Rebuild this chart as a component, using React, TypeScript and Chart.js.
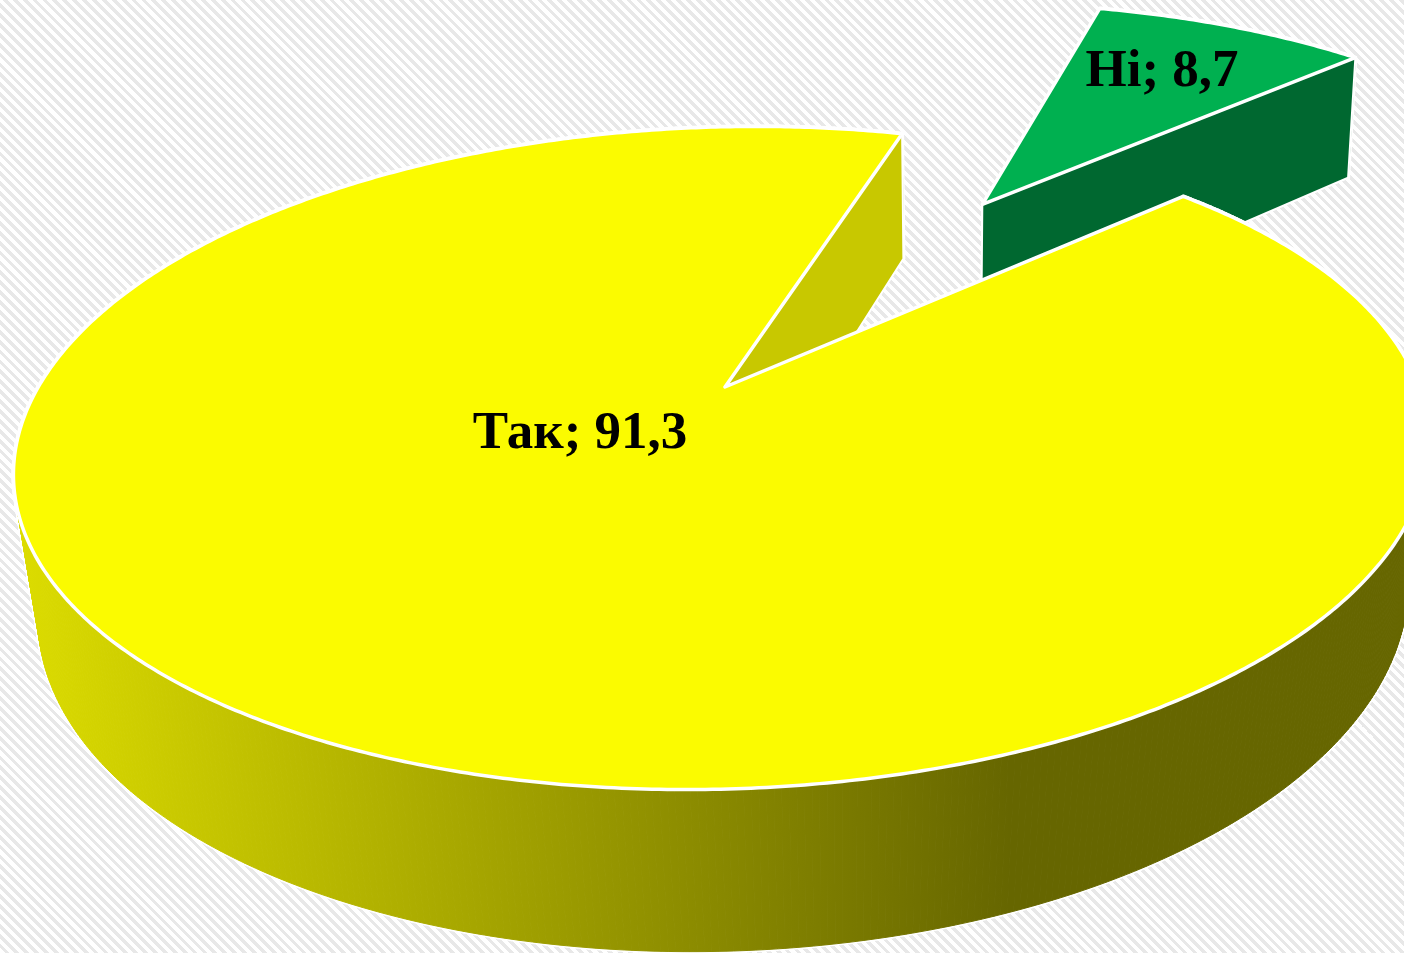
import React, { useEffect, useRef } from "react";
import { Chart, registerables } from "chart.js";

Chart.register(...registerables);

const categories = ["Так", "Ні"];
const shares = [91.3, 8.7];
const topColors = ["#FBFB00", "#00B050"];
const cutColors = ["#C8C800", "#006830"];
const wallColors = ["gradient", "#006830"];
const explodeAmounts = [0, 0.765];
const radii = [1, 0.98];
const labelCenters = [[580, 434], [1162, 72]];

type Vec = [number, number];

function makePlane(c: Vec, A: Vec, B: Vec, apex: Vec) {
  const det = A[0] * B[1] - B[0] * A[1];
  const dx = apex[0] - c[0];
  const dy = apex[1] - c[1];
  const px = (B[1] * dx - B[0] * dy) / det;
  const py = (-A[1] * dx + A[0] * dy) / det;
  const beta = Math.hypot(px, py);
  const nx = px / beta;
  const ny = py / beta;
  const gamma = 1 / Math.sqrt(1 - beta * beta);
  return (x: number, y: number): Vec => {
    const par = x * nx + y * ny;
    const qx = x - par * nx;
    const qy = y - par * ny;
    const den = 1 + beta * par;
    const par2 = (par + beta) / den;
    const k = 1 / (gamma * den);
    const u = par2 * nx + qx * k;
    const v = par2 * ny + qy * k;
    return [c[0] + u * A[0] + v * B[0], c[1] + u * A[1] + v * B[1]];
  };
}

const topPlane = makePlane([721, 458], [707.5, -21.2], [9.9, 330.9], [725, 387]);
const bottomPlane = makePlane([723, 601], [685, -21.4], [9.9, 350], [730, 531]);

function trace(ctx: CanvasRenderingContext2D, pts: Vec[]) {
  ctx.beginPath();
  pts.forEach((p, i) => (i ? ctx.lineTo(p[0], p[1]) : ctx.moveTo(p[0], p[1])));
  ctx.closePath();
}

const pie3d = {
  id: "pie3d",
  beforeDatasetDraw(chart: any) {
    const ctx: CanvasRenderingContext2D = chart.ctx;
    const arcs = chart.getDatasetMeta(0).data;
    ctx.save();
    ctx.lineJoin = "round";
    [1, 0].forEach((i) => {
      const arc = arcs[i];
      const { startAngle, endAngle } = arc;
      const mid = (startAngle + endAngle) / 2;
      const ox = explodeAmounts[i] * Math.cos(mid);
      const oy = explodeAmounts[i] * Math.sin(mid);
      const r = radii[i];
      const steps = Math.max(8, Math.ceil((endAngle - startAngle) / 0.0087));
      const world: Vec[] = [];
      for (let s = 0; s <= steps; s++) {
        const a = startAngle + ((endAngle - startAngle) * s) / steps;
        world.push([ox + r * Math.cos(a), oy + r * Math.sin(a)]);
      }
      const topRim = world.map((w) => topPlane(w[0], w[1]));
      const botRim = world.map((w) => bottomPlane(w[0], w[1]));
      const topApex = topPlane(ox, oy);
      const botApex = bottomPlane(ox, oy);

      // outer wall: white halo first, then the strips of the wall
      let wallFill: any = wallColors[i];
      if (wallFill === "gradient") {
        const g = ctx.createLinearGradient(20, 0, 1010, 0);
        g.addColorStop(0, "#DCDC00");
        g.addColorStop(1, "#666600");
        wallFill = g;
      }
      const strip = (s: number) => [topRim[s], topRim[s + 1], botRim[s + 1], botRim[s]] as Vec[];
      ctx.strokeStyle = "#FFFFFF";
      ctx.lineWidth = 4;
      for (let s = 0; s < steps; s++) {
        trace(ctx, strip(s));
        ctx.stroke();
      }
      ctx.fillStyle = wallFill;
      ctx.strokeStyle = wallFill;
      ctx.lineWidth = 1;
      for (let s = 0; s < steps; s++) {
        trace(ctx, strip(s));
        ctx.fill();
        ctx.stroke();
      }

      // cut walls
      ctx.strokeStyle = "#FFFFFF";
      [0, steps].forEach((k) => {
        trace(ctx, [topApex, topRim[k], botRim[k], botApex]);
        ctx.fillStyle = cutColors[i];
        ctx.fill();
        ctx.lineWidth = 2;
        ctx.stroke();
      });

      // top face
      trace(ctx, [topApex, ...topRim]);
      ctx.fillStyle = arc.options.backgroundColor;
      ctx.fill();
      ctx.lineWidth = 3.5;
      ctx.stroke();
    });
    ctx.restore();
    return false;
  },
  afterDatasetsDraw(chart: any) {
    const ctx: CanvasRenderingContext2D = chart.ctx;
    const labels: string[] = chart.data.labels;
    const values: number[] = chart.data.datasets[0].data;
    ctx.save();
    ctx.fillStyle = "#000000";
    ctx.font = 'bold 53px "Liberation Serif"';
    ctx.textAlign = "center";
    ctx.textBaseline = "middle";
    labels.forEach((label, i) => {
      const text = `${label}; ${values[i].toFixed(1).replace(".", ",")}`;
      ctx.fillText(text, labelCenters[i][0], labelCenters[i][1]);
    });
    ctx.restore();
  },
};

export default function App() {
  const ref = useRef<HTMLCanvasElement>(null);
  useEffect(() => {
    const chart = new Chart(ref.current!, {
      type: "pie",
      data: {
        labels: categories,
        datasets: [{ data: shares, backgroundColor: topColors, borderWidth: 0 }],
      },
      options: {
        responsive: false,
        animation: false,
        rotation: 50.15,
        plugins: { legend: { display: false }, tooltip: { enabled: false } },
      },
      plugins: [pie3d],
    } as any);
    return () => chart.destroy();
  }, []);
  return (
    <div
      style={{
        position: "fixed",
        inset: 0,
        overflow: "hidden",
        background:
          "repeating-linear-gradient(45deg, #ffffff 0px, #ffffff 3.6px, #e8e8e8 3.6px, #e8e8e8 7px)",
      }}
    >
      <canvas ref={ref} width={1404} height={953} style={{ display: "block" }} />
    </div>
  );
}
